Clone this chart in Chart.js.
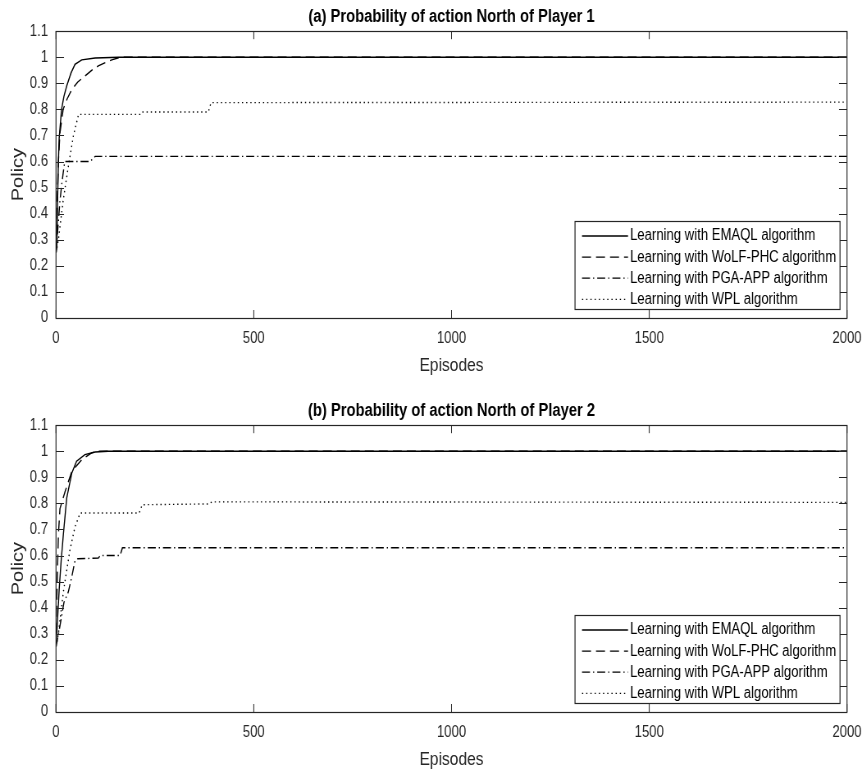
<!DOCTYPE html>
<html>
<head>
<meta charset="utf-8">
<script src="https://cdn.jsdelivr.net/npm/chart.js@4.4.1/dist/chart.umd.min.js"></script>
<style>
  html, body { margin: 0; padding: 0; background: #fff; overflow: hidden; }
  .panel { position: absolute; left: 0; width: 862px; height: 378px; }
  /* the original figure is horizontally squeezed, so the canvas is drawn wider and shrunk */
  .panel canvas { width: 862px !important; height: 378px !important; }
</style>
</head>
<body>
<div class="panel" style="top:0"><canvas id="chartA" width="1051" height="378"></canvas></div>
<div class="panel" style="top:394px"><canvas id="chartB" width="1051" height="378"></canvas></div>
<script>
// Policy curves: episode positions and probabilities
const SERIES_LABELS = [
    'Learning with EMAQL algorithm',
    'Learning with WoLF-PHC algorithm',
    'Learning with PGA-APP algorithm',
    'Learning with WPL algorithm'
];
const X_TICKS = [0, 500, 1000, 1500, 2000];
const Y_TICKS = [0, 0.1, 0.2, 0.3, 0.4, 0.5, 0.6, 0.7, 0.8, 0.9, 1, 1.1];

// (a) Player 1
const emaqlA_ep = [0, 2, 4, 6, 8, 14, 20, 27, 38, 48, 65, 99, 158, 2000];
const emaqlA_p  = [0.25, 0.27, 0.45, 0.6, 0.69, 0.80, 0.85, 0.89, 0.94, 0.973, 0.99, 0.997, 1.0, 1.0];
const wolfA_ep  = [0, 3, 6, 10, 18, 28, 40, 55, 73, 90, 107, 125, 141, 162, 2000];
const wolfA_p   = [0.25, 0.45, 0.6, 0.71, 0.80, 0.84, 0.877, 0.905, 0.928, 0.95, 0.967, 0.98, 0.99, 1.0, 1.0];
const pgaA_ep   = [0, 5, 10, 15, 22, 86, 99, 2000];
const pgaA_p    = [0.25, 0.35, 0.45, 0.52, 0.60, 0.60, 0.62, 0.62];
const wplA_ep   = [0, 6, 18, 31, 44, 57, 212, 216, 385, 392, 2000];
const wplA_p    = [0.25, 0.30, 0.45, 0.58, 0.70, 0.781, 0.781, 0.79, 0.79, 0.826, 0.828];

// (b) Player 2
const emaqlB_ep = [0, 3, 8, 13, 18.5, 27, 40, 52, 73, 99, 132, 2000];
const emaqlB_p  = [0.25, 0.33, 0.47, 0.58, 0.68, 0.82, 0.917, 0.962, 0.987, 0.997, 1.0, 1.0];
const wolfB_ep  = [0, 3, 6, 10, 23, 40, 65, 90, 107, 2000];
const wolfB_p   = [0.3, 0.5, 0.68, 0.78, 0.846, 0.923, 0.968, 0.994, 1.0, 1.0];
const pgaB_ep   = [0, 10, 20, 31, 40, 48, 55, 107, 112, 162, 168, 2000];
const pgaB_p    = [0.25, 0.33, 0.42, 0.46, 0.52, 0.58, 0.588, 0.59, 0.60, 0.60, 0.63, 0.63];
const wplB_ep   = [0, 6, 18.5, 35, 48, 61, 210, 218, 385, 395, 2000];
const wplB_p    = [0.25, 0.30, 0.46, 0.62, 0.71, 0.763, 0.763, 0.795, 0.798, 0.806, 0.804];

const SQUEEZE = 862 / 1051;   // horizontal shrink of the canvas
const sx = v => v / SQUEEZE;  // screen px -> canvas px along x
const AXIS_COLOR = '#262626';
const FONT = "'Liberation Sans', Arial, Helvetica, sans-serif";
const DASHES = [[], [sx(9), sx(5)], [sx(8), sx(3), sx(1.2), sx(3)], [sx(1.2), sx(3)]];
const TICK_LEN = 8;

function toPoints(ep, p) {
    return ep.map((e, i) => ({ x: e, y: p[i] }));
}

// center the title over the plot box, like MATLAB does
const titleOverPlot = {
    id: 'titleOverPlot',
    afterLayout(chart) {
        const t = chart.titleBlock;
        if (!t) return;
        t.left = chart.chartArea.left;
        t.right = chart.chartArea.right;
        t.width = t.right - t.left;
    }
};

// MATLAB-style box with inward ticks on all four sides
const boxFrame = {
    id: 'boxFrame',
    afterDatasetsDraw(chart) {
        const { ctx, chartArea: a, scales: { x, y } } = chart;
        ctx.save();
        ctx.strokeStyle = AXIS_COLOR;
        ctx.lineWidth = 1;
        ctx.beginPath();
        X_TICKS.forEach(v => {
            const px = x.getPixelForValue(v);
            ctx.moveTo(px, a.bottom); ctx.lineTo(px, a.bottom - TICK_LEN);
            ctx.moveTo(px, a.top); ctx.lineTo(px, a.top + TICK_LEN);
        });
        Y_TICKS.forEach(v => {
            const py = Math.round(y.getPixelForValue(v)) + 0.5;
            ctx.moveTo(a.left, py); ctx.lineTo(a.left + sx(TICK_LEN), py);
            ctx.moveTo(a.right, py); ctx.lineTo(a.right - sx(TICK_LEN), py);
        });
        ctx.stroke();
        ctx.lineWidth = 1.2;
        ctx.strokeRect(a.left, Math.round(a.top) + 0.5, a.right - a.left, Math.round(a.bottom - a.top));
        ctx.restore();
    }
};

// Boxed legend in the lower right of the plot area
const boxLegend = {
    id: 'boxLegend',
    afterDraw(chart) {
        const { ctx, chartArea: a } = chart;
        const w = sx(265), h = 88, rowH = 21.1;
        const left = a.right - sx(7) - w;
        const top = Math.round(a.bottom - 9 - h) + 0.5;
        ctx.save();
        ctx.fillStyle = '#fff';
        ctx.fillRect(left, top, w, h);
        ctx.strokeStyle = AXIS_COLOR;
        ctx.lineWidth = 1.2;
        ctx.strokeRect(left, top, w, h);
        ctx.font = '16px ' + FONT;
        ctx.textBaseline = 'middle';
        ctx.fillStyle = '#000';
        chart.data.datasets.forEach((ds, i) => {
            const cy = top + 14.5 + i * rowH;
            ctx.beginPath();
            ctx.setLineDash(ds.borderDash);
            ctx.lineWidth = 1.3;
            ctx.strokeStyle = '#000';
            ctx.moveTo(left + sx(7), cy);
            ctx.lineTo(left + sx(53), cy);
            ctx.stroke();
            ctx.setLineDash([]);
            ctx.fillText(ds.label, left + sx(55), cy);
        });
        ctx.restore();
    }
};

function makeChart(id, title, series) {
    return new Chart(document.getElementById(id), {
        type: 'line',
        data: {
            datasets: series.map((s, i) => ({
                label: SERIES_LABELS[i],
                data: toPoints(s[0], s[1]),
                borderColor: '#000',
                borderWidth: 1.4,
                borderDash: DASHES[i],
                pointRadius: 0,
                tension: 0,
                fill: false
            }))
        },
        options: {
            responsive: false,
            animation: false,
            layout: { padding: { left: 0, right: sx(15), top: 0, bottom: 0 } },
            plugins: {
                legend: { display: false },
                tooltip: { enabled: false },
                title: {
                    display: true,
                    text: title,
                    color: '#000',
                    font: { family: FONT, size: 18, weight: 'bold' },
                    padding: { top: 6.5, bottom: 3.1 }
                }
            },
            scales: {
                x: {
                    type: 'linear',
                    min: 0, max: 2000,
                    afterBuildTicks: scale => { scale.ticks = X_TICKS.map(v => ({ value: v })); },
                    ticks: { padding: 11, maxRotation: 0, color: AXIS_COLOR, font: { family: FONT, size: 16 }, callback: v => String(v) },
                    grid: { display: false, drawTicks: false },
                    border: { display: false },
                    title: { display: true, text: 'Episodes', color: AXIS_COLOR, font: { family: FONT, size: 19 }, padding: { top: 0, bottom: 0.6 } },
                    afterFit: scale => {
                        scale.height = 60;
                        scale.paddingLeft = 0;
                        scale.paddingRight = 0;
                    }
                },
                y: {
                    min: 0, max: 1.1,
                    afterBuildTicks: scale => { scale.ticks = Y_TICKS.map(v => ({ value: v })); },
                    ticks: { padding: sx(8), color: AXIS_COLOR, font: { family: FONT, size: 16 }, callback: v => String(+v.toFixed(1)) },
                    grid: { display: false, drawTicks: false },
                    border: { display: false },
                    title: { display: true, text: 'Policy', color: AXIS_COLOR, font: { family: FONT, size: 20 }, padding: { top: 10, bottom: 0 } },
                    afterFit: scale => {
                        scale.width = sx(56);
                        scale.paddingTop = 0;
                        scale.paddingBottom = 0;
                    }
                }
            }
        },
        plugins: [titleOverPlot, boxFrame, boxLegend]
    });
}

makeChart('chartA', '(a) Probability of action North of Player 1', [
    [emaqlA_ep, emaqlA_p], [wolfA_ep, wolfA_p], [pgaA_ep, pgaA_p], [wplA_ep, wplA_p]
]);
makeChart('chartB', '(b) Probability of action North of Player 2', [
    [emaqlB_ep, emaqlB_p], [wolfB_ep, wolfB_p], [pgaB_ep, pgaB_p], [wplB_ep, wplB_p]
]);
</script>
</body>
</html>
